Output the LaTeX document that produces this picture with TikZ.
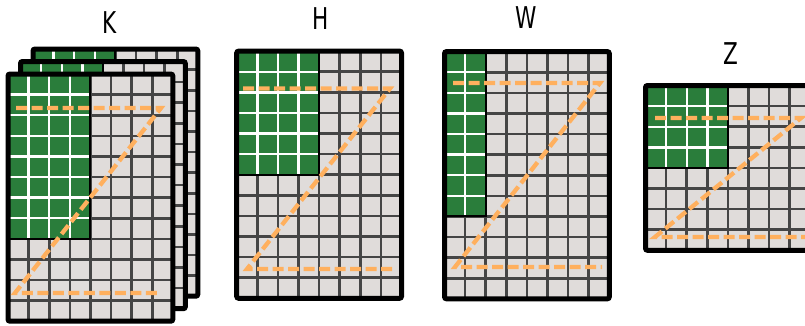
\documentclass[tikz,border=0pt]{standalone}
\usepackage{fontspec}
\newfontfamily\labelfont[FakeStretch=0.72]{DejaVu Sans}
\usepackage{tikz}
\usetikzlibrary{arrows.meta,positioning,calc}
\usepackage{xcolor}
\definecolor{tnGreen}{HTML}{2A7D3B}
\definecolor{tnCell}{HTML}{E0DCDA}
\definecolor{tnLine}{HTML}{454545}
\definecolor{tnOrange}{HTML}{FFB05E}
\tikzset{
  cellline/.style={draw=tnLine, line width=2.6pt},
  greenline/.style={draw=white, line width=2.4pt},
  greenedge/.style={draw=black, line width=2pt},
  frame/.style={draw=black, line width=5pt, rounded corners=2pt},
  scan/.style={draw=tnOrange, line width=4.3pt, dash pattern=on 11pt off 4.5pt},
  dimlabel/.style={font=\labelfont\fontsize{30}{32}\selectfont, inner sep=0pt}
}
\newcommand{\cellsz}{20.6}
% #1,#2 inner top left, #3 cols, #4 rows, #5 green cols, #6 green rows
\newcommand{\tensorgrid}[6]{%
  \pgfmathtruncatemacro{\lastc}{#3-1}
  \pgfmathtruncatemacro{\lastr}{#4-1}
  \pgfmathtruncatemacro{\lastgc}{#5-1}
  \pgfmathtruncatemacro{\lastgr}{#6-1}
  \fill[tnCell] (#1,#2) rectangle ++(#3*\cellsz,#4*\cellsz);
  \foreach \i in {1,...,\lastc}{\draw[cellline] (#1+\i*\cellsz,#2) -- ++(0,#4*\cellsz);}
  \foreach \j in {1,...,\lastr}{\draw[cellline] (#1,#2+\j*\cellsz) -- ++(#3*\cellsz,0);}
  \fill[tnGreen] (#1,#2) rectangle ++(#5*\cellsz,#6*\cellsz);
  \foreach \i in {1,...,\lastgc}{\draw[greenline] (#1+\i*\cellsz,#2) -- ++(0,#6*\cellsz);}
  \foreach \j in {1,...,\lastgr}{\draw[greenline] (#1,#2+\j*\cellsz) -- ++(#5*\cellsz,0);}
  \draw[greenedge] (#1,#2) rectangle ++(#5*\cellsz,#6*\cellsz);
  \draw[frame] (#1,#2) rectangle ++(#3*\cellsz,#4*\cellsz);
}
\begin{document}
\begin{tikzpicture}[x=1pt,y=-1pt]
  \useasboundingbox (0,0) rectangle (805,325);
  \clip (0,0) rectangle (805,325);
  % K: stack of three
  \tensorgrid{33}{49}{8}{12}{4}{8}
  \tensorgrid{20.5}{61.5}{8}{12}{4}{8}
  \tensorgrid{8}{74}{8}{12}{4}{8}
  \draw[scan] (16,108) -- (161,108) -- (15,293) -- (160,293);
  % H
  \tensorgrid{236.7}{51.1}{8}{12}{4}{6}
  \draw[scan] (243,88.5) -- (390,88.5) -- (247,269) -- (392,269);
  % W
  \tensorgrid{444.5}{51.6}{8}{12}{2}{8}
  \draw[scan] (453,83) -- (600,83) -- (455,267) -- (602,267);
  % Z
  \tensorgrid{645.5}{85.5}{8}{8}{4}{4}
  \draw[scan] (655,118) -- (801,118) -- (655,237) -- (810,237);
  \node[dimlabel] (labK) at (110,23) {K};
  \node[dimlabel] (labH) at (320.5,18.5) {H};
  \node[dimlabel] (labW) at (526.5,18) {W};
  \node[dimlabel] (labZ) at (730.5,53.5) {Z};
\end{tikzpicture}
\end{document}
